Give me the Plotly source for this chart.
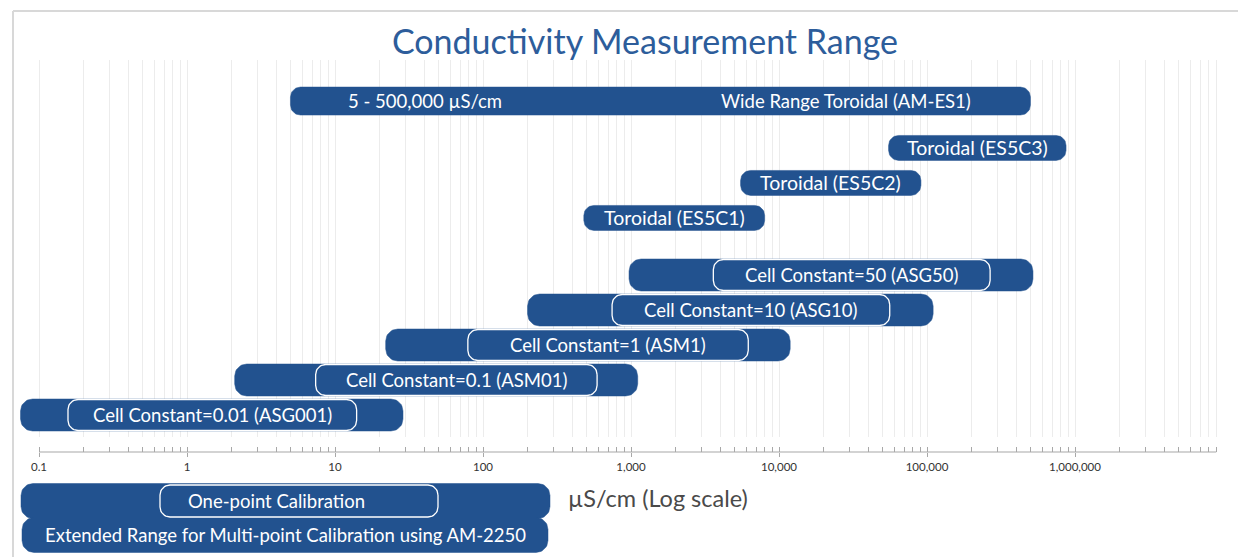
import numpy as np
import plotly.graph_objects as go

# ---------------- data ----------------
probe_labels = ["Wide Range Toroidal (AM-ES1)", "Toroidal (ES5C3)", "Toroidal (ES5C2)", "Toroidal (ES5C1)"]
probe_low = [5, 55000, 5500, 480]
probe_high = [500000, 870000, 91000, 8000]
probe_row = [8.97, 7.63, 6.63, 5.63]
probe_range_note = "5 - 500,000 µS/cm"

cell_labels = ["Cell Constant=50 (ASG50)", "Cell Constant=10 (ASG10)", "Cell Constant=1 (ASM1)",
               "Cell Constant=0.1 (ASM01)", "Cell Constant=0.01 (ASG001)"]
cell_ext_low = [970, 200, 22, 2.1, 0.075]          # extended range (multi-point calibration)
cell_ext_high = [520000, 110000, 11900, 1110, 28.8]
cell_one_low = [3600, 745, 79, 7.4, 0.157]        # one-point calibration range
cell_one_high = [267000, 56000, 6200, 590, 14]
cell_row = [4, 3, 2, 1, 0]

tick_vals = [0.1, 1, 10, 100, 1000, 10000, 100000, 1000000]
tick_text = ["0.1", "1", "10", "100", "1,000", "10,000", "100,000", "1,000,000"]
axis_end = 9000000

legend_labels = ["One-point Calibration", "Extended Range for Multi-point Calibration using AM-2250"]
axis_title = "µS/cm (Log scale)"
title = "Conductivity Measurement Range"

# ---------------- layout constants (window pixels) ----------------
WIN_W, WIN_H = 1246, 557
OFF = 8                                   # page body margin
W, H = WIN_W - OFF, WIN_H - OFF           # figure size
BLUE = "#22528f"
FONT = "Lato"
TXT_SIZE = 18.5
PX_DEC = 148.0            # pixels per decade
PX_TENTH = 39.0           # window pixel x of 0.1
PL, PR = 20.0, 1225.0     # plot area window pixel x
XA = -1 + (PL - PX_TENTH) / PX_DEC
XB = -1 + (PR - PX_TENTH) / PX_DEC
YT, YB, YAX = 60.0, 437.0, 452.0
ROW0, PX_ROW = 415.0, 35.0


def px_x(px):
    return (px - OFF) / W


def px_y(py):
    return 1 - (py - OFF) / H


def log_to_px(v):
    return PL + (np.log10(v) - XA) * PX_DEC


def pill(lo, hi, row, h_px, r_px, sx, sy, log_x):
    """Rounded-end pill polygon in axis data values."""
    half = h_px / 2.0
    r = min(r_px, half)
    a = np.log10(lo) if log_x else lo
    b = np.log10(hi) if log_x else hi
    xs, ys = [], []
    corners = [(b - r / sx, half - r, 0, 90), (a + r / sx, half - r, 90, 180),
               (a + r / sx, -(half - r), 180, 270), (b - r / sx, -(half - r), 270, 360)]
    for cx, cy, a0, a1 in corners:
        for ang in np.linspace(a0, a1, 12):
            t = np.radians(ang)
            xv = cx + r * np.cos(t) / sx
            xs.append(10 ** xv if log_x else xv)
            ys.append(row + (cy + r * np.sin(t)) / sy)
    xs.append(xs[0]); ys.append(ys[0])
    return xs, ys


fig = go.Figure()


def add_pill(lo, hi, row, h, r, outline=None, xaxis="x", yaxis="y", sx=PX_DEC, sy=PX_ROW, log_x=True):
    xs, ys = pill(lo, hi, row, h, r, sx, sy, log_x)
    fig.add_trace(go.Scatter(
        x=xs, y=ys, mode="lines", fill="toself", fillcolor=BLUE,
        line=dict(color=outline if outline else BLUE, width=1.3 if outline else 0.5),
        hoverinfo="skip", showlegend=False, xaxis=xaxis, yaxis=yaxis))


# probes
for i in range(len(probe_labels)):
    h = 28 if i == 0 else 25
    add_pill(probe_low[i], probe_high[i], probe_row[i], h, 10)

# cell constants: extended range, then one-point bracket
for i in range(len(cell_labels)):
    add_pill(cell_ext_low[i], cell_ext_high[i], cell_row[i], 32, 12)
for i in range(len(cell_labels)):
    add_pill(cell_one_low[i], cell_one_high[i], cell_row[i], 31, 10, outline="white")

annotations = []
txt = dict(family=FONT, size=TXT_SIZE, color="white")
for i, lab in enumerate(probe_labels):
    if i == 0:
        annotations.append(dict(x=np.log10(probe_low[i]), y=probe_row[i], xref="x", yref="y",
                                text=probe_range_note, showarrow=False, xanchor="left", yanchor="middle",
                                xshift=56, font=txt))
        annotations.append(dict(x=np.log10(probe_high[i]), y=probe_row[i], xref="x", yref="y",
                                text=lab, showarrow=False, xanchor="right", yanchor="middle",
                                xshift=-57, font=txt))
    else:
        c = (np.log10(probe_low[i]) + np.log10(probe_high[i])) / 2
        annotations.append(dict(x=c, y=probe_row[i], xref="x", yref="y", text=lab,
                                showarrow=False, xanchor="center", yanchor="middle",
                                font=dict(family=FONT, size=TXT_SIZE + 1, color="white")))
for i, lab in enumerate(cell_labels):
    c = (np.log10(cell_one_low[i]) + np.log10(cell_one_high[i])) / 2
    annotations.append(dict(x=c, y=cell_row[i], xref="x", yref="y", text=lab, showarrow=False,
                            xanchor="center", yanchor="middle", font=txt))

# legend key (bottom), in a hidden linear subplot measured in window pixels
LEG_ROW0, LEG_PX_ROW, LEG_TOP = 535.0, 34.0, 470.0
add_pill(21, 550, 1, 35, 12, xaxis="x2", yaxis="y2", sx=1.0, sy=LEG_PX_ROW, log_x=False)
add_pill(22, 548, 0, 35, 12, xaxis="x2", yaxis="y2", sx=1.0, sy=LEG_PX_ROW, log_x=False)
add_pill(160, 438, 1, 32, 10, outline="white", xaxis="x2", yaxis="y2", sx=1.0, sy=LEG_PX_ROW, log_x=False)
annotations.append(dict(x=276, y=1, xref="x2", yref="y2", text=legend_labels[0], showarrow=False,
                        xanchor="center", yanchor="middle", font=txt))
annotations.append(dict(x=285, y=0, xref="x2", yref="y2", text=legend_labels[1], showarrow=False,
                        xanchor="center", yanchor="middle", font=txt))
annotations.append(dict(x=px_x(566), y=px_y(498), xref="paper", yref="paper", text=axis_title,
                        showarrow=False, xanchor="left", yanchor="middle",
                        font=dict(family=FONT, size=23.5, color="#4a4a4a")))

minor_vals = [k * 10.0 ** d for d in range(-1, 7) for k in range(1, 10) if k * 10.0 ** d <= axis_end]

shapes = [
    dict(type="line", xref="paper", yref="paper", x0=px_x(13), x1=1.01, y0=px_y(11), y1=px_y(11),
         line=dict(color="#d8d8d8", width=2)),
    dict(type="line", xref="paper", yref="paper", x0=px_x(13), x1=px_x(13), y0=px_y(11), y1=-0.02,
         line=dict(color="#d8d8d8", width=2)),
    dict(type="line", xref="paper", yref="paper", x0=px_x(log_to_px(0.1)), x1=px_x(log_to_px(axis_end)),
         y0=px_y(YAX), y1=px_y(YAX), line=dict(color="#a8a8a8", width=1.2)),
]

fig.update_layout(
    width=W, height=H, autosize=False,
    margin=dict(l=0, r=0, t=0, b=0),
    paper_bgcolor="white", plot_bgcolor="rgba(0,0,0,0)",
    title=dict(text=title, x=px_x(645), xanchor="center", y=px_y(42), yanchor="middle", yref="container",
               font=dict(family=FONT, size=34, color="#2d5d9b")),
    xaxis=dict(type="log", range=[XA, XB], domain=[px_x(PL), px_x(PR)], anchor="free", position=px_y(YAX),
               showline=False, zeroline=False, tickmode="array", tickvals=tick_vals, ticktext=tick_text,
               ticks="outside", ticklen=4, tickcolor="#a8a8a8", tickfont=dict(family=FONT, size=11.5, color="#333"),
               showgrid=True, gridcolor="#ececec", gridwidth=1,
               minor=dict(tickmode="array", tickvals=minor_vals, ticks="inside", ticklen=5, tickcolor="#a8a8a8",
                          showgrid=True, gridcolor="#ececec", gridwidth=1)),
    yaxis=dict(domain=[px_y(YB), px_y(YT)], range=[(ROW0 - YB) / PX_ROW, (ROW0 - YT) / PX_ROW],
               visible=False, showgrid=False, zeroline=False),
    xaxis2=dict(domain=[0, 1], range=[OFF, OFF + W], visible=False, anchor="y2"),
    yaxis2=dict(domain=[0, px_y(LEG_TOP)], range=[(LEG_ROW0 - (OFF + H)) / LEG_PX_ROW, (LEG_ROW0 - LEG_TOP) / LEG_PX_ROW],
                visible=False, anchor="x2"),
    annotations=annotations, shapes=shapes, hovermode=False,
)

fig.write_html("out.html")
